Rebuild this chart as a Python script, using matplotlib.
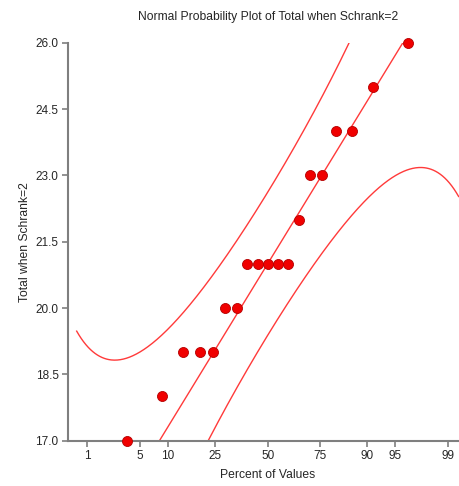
import numpy as np
import matplotlib
matplotlib.use("Agg")
import matplotlib.pyplot as plt
from statistics import NormalDist

# Observed totals for the Schrank=2 group
totals = [17, 18, 19, 19, 19, 20, 20, 21, 21, 21, 21, 21, 22, 23, 23, 24, 24, 25, 26]

# Probability-axis ticks (percent) and value-axis ticks
percent_ticks = [1, 5, 10, 25, 50, 75, 90, 95, 99]
value_ticks = [17.0, 18.5, 20.0, 21.5, 23.0, 24.5, 26.0]

# Reference line (value at the median and change per standard normal unit)
line_center = 21.0
line_slope = 2.87
band_level = 0.95
band_z_limit = 2.46

plt.rcParams["font.family"] = ["Liberation Sans", "DejaVu Sans"]
text_color = "#262626"
axis_color = "#7f7f7f"
line_color = "#ff3a3a"

nd = NormalDist()
y = np.sort(np.asarray(totals, dtype=float))
n = len(y)
ranks = np.arange(1, n + 1)
plot_pos = (ranks - 0.3175) / (n + 0.365)
z = np.array([nd.inv_cdf(p) for p in plot_pos])

zz = np.linspace(-band_z_limit, band_z_limit, 500)
pp = np.array([nd.cdf(v) for v in zz])
dens = np.array([nd.pdf(v) for v in zz])
crit = nd.inv_cdf(0.5 + band_level / 2)
center = line_center + line_slope * zz
half = crit * line_slope * np.sqrt(pp * (1 - pp) / n) / dens

fig = plt.figure(figsize=(4.59, 4.86), dpi=100)
ax = fig.add_axes([68.3 / 459, 45.3 / 486, (467 - 68.3) / 459, 398.0 / 486])

ax.plot(zz, center + half, color=line_color, lw=1.0, zorder=2)
ax.plot(zz, center - half, color=line_color, lw=1.0, zorder=2)
zl = np.array([-band_z_limit, band_z_limit])
ax.plot(zl, line_center + line_slope * zl, color=line_color, lw=1.0, zorder=2)

ax.scatter(z, y, s=52, facecolor="#f00000", edgecolor="#b40000", linewidth=0.6,
           zorder=4, clip_on=False)

ax.set_xlim(-2.568, 2.568)
ax.set_ylim(17.0, 26.0)
ax.set_xticks([nd.inv_cdf(p / 100) for p in percent_ticks])
ax.set_xticklabels([str(p) for p in percent_ticks])
ax.set_yticks(value_ticks)
ax.set_yticklabels([f"{v:.1f}" for v in value_ticks])

for side in ("top", "right"):
    ax.spines[side].set_visible(False)
for side in ("left", "bottom"):
    ax.spines[side].set_color(axis_color)
    ax.spines[side].set_linewidth(1.5)
ax.tick_params(axis="both", colors=axis_color, length=4, width=1.2,
               labelcolor=text_color, labelsize=8.5, pad=3)

ax.set_xlabel("Percent of Values", fontsize=8.7, color=text_color, labelpad=5)
ax.set_ylabel("Total when Schrank=2", fontsize=8.7, color=text_color, labelpad=3)
ax.set_title("Normal Probability Plot of Total when Schrank=2", fontsize=8.7,
             color=text_color, pad=16)

fig.savefig("out.png", dpi=100)
